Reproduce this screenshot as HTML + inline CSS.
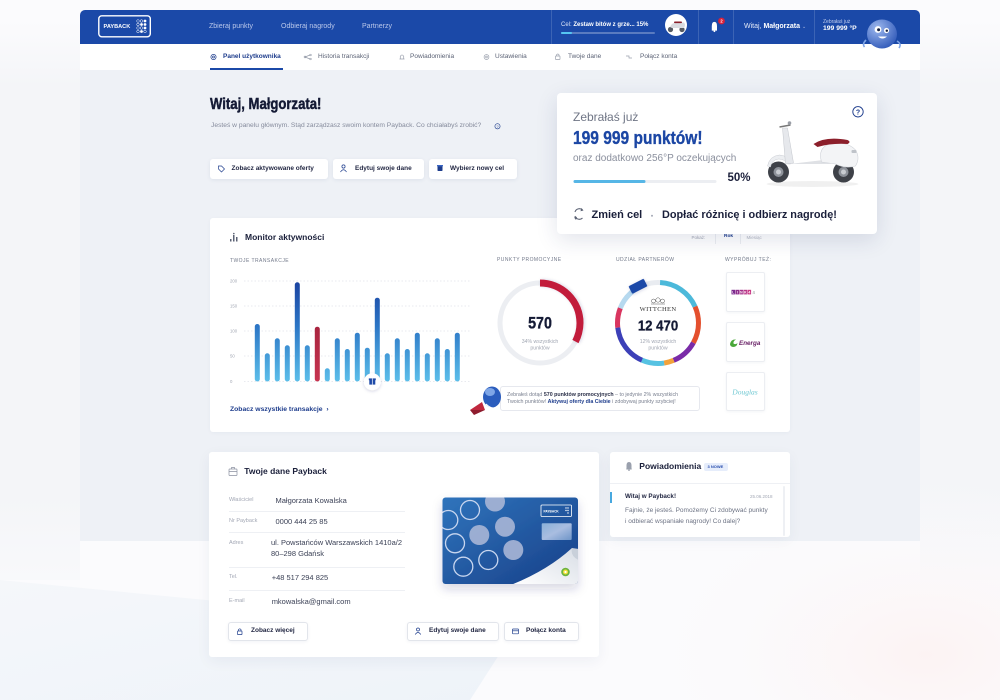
<!DOCTYPE html>
<html><head><meta charset="utf-8"><title>Payback</title>
<style>
*{margin:0;padding:0;box-sizing:border-box}
html,body{width:1000px;height:700px;overflow:hidden}
body{position:relative;background:#fbfbfd;font-family:"Liberation Sans",sans-serif;color:#1b2038}
.a{position:absolute;white-space:nowrap;line-height:1}
.p{position:absolute}
.b{font-weight:bold}
.nav{font-size:7px;color:#b9c7ea;top:22.6px}
.sn{font-size:6.5px;color:#5c6376;top:53.6px}
.btn{position:absolute;background:#fff;border-radius:3px;box-shadow:0 1px 4px rgba(30,50,100,.08)}
.btn2{position:absolute;background:#fff;border:1px solid #e2e5eb;border-radius:3px;box-shadow:0 1px 3px rgba(30,50,100,.06)}
.bt{font-size:6.5px;font-weight:bold;color:#1f2440}
.lb{font-size:5.5px;color:#a3a8b5}
.vl{font-size:7.5px;color:#3b4156}
.cap{font-size:5px;color:#737a8b;letter-spacing:.45px}
.hr{position:absolute;height:1px;background:#eef0f4}
.sep{position:absolute;top:9.5px;width:1px;height:34.5px;background:rgba(255,255,255,.15)}
</style></head><body>

<!-- background -->
<svg class="p" style="left:0;top:0" width="1000" height="700">
  <defs>
    <radialGradient id="pk" cx="0.85" cy="0.85" r="0.6"><stop offset="0" stop-color="#fcf3f3"/><stop offset="1" stop-color="#fbfbfd" stop-opacity="0"/></radialGradient>
    <linearGradient id="bl" x1="0" y1="0" x2="1" y2="1"><stop offset="0" stop-color="#f5f7fa"/><stop offset="1" stop-color="#eef3f9"/></linearGradient>
    <linearGradient id="side" x1="0" y1="0" x2="0" y2="1"><stop offset="0" stop-color="#fbfbfd"/><stop offset=".12" stop-color="#f4f5f8"/><stop offset=".85" stop-color="#f4f5f8"/><stop offset="1" stop-color="#f8f9fb"/></linearGradient>
  </defs>
  <rect x="0" y="0" width="1000" height="700" fill="#fbfbfd"/>
  <rect x="0" y="20" width="80" height="560" fill="url(#side)"/>
  <rect x="920" y="20" width="80" height="560" fill="url(#side)"/>
  <rect x="500" y="400" width="500" height="300" fill="url(#pk)"/>
  <polygon points="0,580 515,630 470,700 0,700" fill="url(#bl)"/>
</svg>

<!-- header -->
<div class="p" style="left:80px;top:9.5px;width:840px;height:34.5px;background:#1b49a8;border-radius:5px 5px 0 0"></div>
<div class="p" style="left:80px;top:44px;width:840px;height:26px;background:#fff"></div>
<div class="p" style="left:80px;top:70px;width:840px;height:471px;background:#eef1f6"></div>

<div class="a nav" style="left:209px">Zbieraj punkty</div>
<div class="a nav" style="left:281px">Odbieraj nagrody</div>
<div class="a nav" style="left:362px">Partnerzy</div>

<div class="sep" style="left:551px"></div>
<div class="sep" style="left:698px"></div>
<div class="sep" style="left:733px"></div>
<div class="sep" style="left:814px"></div>

<div class="a" style="left:561px;top:21.5px;font-size:6px;color:#dfe7f8">Cel: <b style="color:#fff">Zestaw bitów z grze... 15%</b></div>
<div class="p" style="left:561px;top:31.5px;width:94px;height:2px;background:rgba(255,255,255,.28);border-radius:1px"></div>
<div class="p" style="left:561px;top:31.5px;width:11px;height:2px;background:#55c6f2;border-radius:1px"></div>

<div class="a" style="left:744px;top:22.8px;font-size:7px;color:#e4eaf8">Witaj, <b style="color:#fff">Małgorzata</b> <span style="font-size:5px;color:#aebde6">&#8964;</span></div>
<div class="a" style="left:823px;top:19.5px;font-size:5px;color:#c1cdee">Zebrałaś już</div>
<div class="a b" style="left:823px;top:26.3px;font-size:6.8px;color:#fff">199 999 °P</div>

<!-- subnav -->
<div class="a sn b" style="left:223px;color:#1d3c8c">Panel użytkownika</div>
<div class="p" style="left:210px;top:67.5px;width:73px;height:2px;background:#1b49a8"></div>
<div class="a sn" style="left:318px">Historia transakcji</div>
<div class="a sn" style="left:410px">Powiadomienia</div>
<div class="a sn" style="left:495px">Ustawienia</div>
<div class="a sn" style="left:568px">Twoje dane</div>
<div class="a sn" style="left:640px">Połącz konta</div>

<!-- welcome -->
<div class="a b" style="left:210px;top:97px;font-size:16px;color:#141a35;transform:scaleX(.82);transform-origin:0 0;-webkit-text-stroke:.45px #141a35">Witaj, Małgorzata!</div>
<div class="a" style="left:211px;top:123.2px;font-size:6.7px;color:#858b9c">Jesteś w panelu głównym. Stąd zarządzasz swoim kontem Payback. Co chciałabyś zrobić?</div>

<div class="btn" style="left:210px;top:159px;width:117.5px;height:19.5px"></div>
<div class="a bt" style="left:231.5px;top:165.6px">Zobacz aktywowane oferty</div>
<div class="btn" style="left:333px;top:159px;width:90.5px;height:19.5px"></div>
<div class="a bt" style="left:355px;top:165.6px">Edytuj swoje dane</div>
<div class="btn" style="left:428.5px;top:159px;width:88px;height:19.5px"></div>
<div class="a bt" style="left:450px;top:165.6px">Wybierz nowy cel</div>

<!-- monitor panel -->
<div class="p" style="left:210px;top:218px;width:580px;height:213.5px;background:#fff;border-radius:3px;box-shadow:0 1px 4px rgba(30,50,100,.04)"></div>
<div class="a b" style="left:245px;top:232.8px;font-size:8.5px;color:#1a1f3a">Monitor aktywności</div>
<div class="a cap" style="left:230px;top:259px">TWOJE TRANSAKCJE</div>
<div class="a" style="left:691.5px;top:235.5px;font-size:4.5px;color:#a0a5b2">Pokaż:</div>
<div class="p" style="left:715px;top:231.5px;width:26px;height:12px;border:1px solid #eceef2;border-bottom:none;border-radius:2px 2px 0 0;background:#fff"></div>
<div class="a b" style="left:724px;top:235.3px;font-size:4.8px;color:#1d3c8c">Rok</div>
<div class="a" style="left:746.5px;top:235.5px;font-size:4.5px;color:#b2b7c2">Miesiąc</div>
<div class="a b" style="left:230px;top:407.2px;font-size:6.8px;color:#1d3c8c">Zobacz wszystkie transakcje &nbsp;›</div>
<div class="a cap" style="left:497px;top:258.4px">PUNKTY PROMOCYJNE</div>
<div class="a cap" style="left:616px;top:258.4px">UDZIAŁ PARTNERÓW</div>
<div class="a cap" style="left:725px;top:258.4px">WYPRÓBUJ TEŻ:</div>

<div class="p" style="left:725.5px;top:272.3px;width:39.5px;height:40px;background:#fff;border:1px solid #eceef2;border-radius:2px;box-shadow:0 1px 3px rgba(30,50,100,.05)"></div>
<div class="p" style="left:725.5px;top:322.3px;width:39.5px;height:39.5px;background:#fff;border:1px solid #eceef2;border-radius:2px;box-shadow:0 1px 3px rgba(30,50,100,.05)"></div>
<div class="p" style="left:725.5px;top:372.3px;width:39.5px;height:39px;background:#fff;border:1px solid #eceef2;border-radius:2px;box-shadow:0 1px 3px rgba(30,50,100,.05)"></div>

<div class="p" style="left:499.5px;top:386px;width:200px;height:25px;background:#fff;border:1px solid #e6e8ee;border-radius:3px"></div>
<div class="a" style="left:507px;top:392.5px;font-size:5.3px;color:#7a8090">Zebrałeś dotąd <b style="color:#2a2f48">570 punktów promocyjnych</b> – to jedynie 2% wszystkich</div>
<div class="a" style="left:507px;top:400px;font-size:5.3px;color:#7a8090">Twoich punktów! <b style="color:#1d3c8c">Aktywuj oferty dla Ciebie</b> i zdobywaj punkty szybciej!</div>

<!-- Twoje dane -->
<div class="p" style="left:209px;top:451.5px;width:389.5px;height:205.5px;background:#fff;border-radius:3px;box-shadow:0 4px 14px rgba(30,50,100,.06)"></div>
<div class="a b" style="left:244.3px;top:467px;font-size:8.5px;color:#1a1f3a">Twoje dane Payback</div>
<div class="a lb" style="left:229px;top:497.8px">Właściciel</div>
<div class="a vl" style="left:275.5px;top:496.8px">Małgorzata Kowalska</div>
<div class="hr" style="left:229px;top:511px;width:176px"></div>
<div class="a lb" style="left:229px;top:518.8px">Nr Payback</div>
<div class="a vl" style="left:275.5px;top:517.8px">0000 444 25 85</div>
<div class="hr" style="left:229px;top:531.7px;width:176px"></div>
<div class="a lb" style="left:229px;top:541.4px">Adres</div>
<div class="a vl" style="left:271px;top:539.4px">ul. Powstańców Warszawskich 1410a/2</div>
<div class="a vl" style="left:271px;top:550.1px">80–298 Gdańsk</div>
<div class="hr" style="left:229px;top:566.7px;width:176px"></div>
<div class="a lb" style="left:229px;top:574.8px">Tel.</div>
<div class="a vl" style="left:271.7px;top:573.8px">+48 517 294 825</div>
<div class="hr" style="left:229px;top:590px;width:176px"></div>
<div class="a lb" style="left:229px;top:598.8px">E-mail</div>
<div class="a vl" style="left:271.7px;top:597.8px">mkowalska@gmail.com</div>

<div class="btn2" style="left:228px;top:621.5px;width:80px;height:19.5px"></div>
<div class="a bt" style="left:251px;top:628.3px">Zobacz więcej</div>
<div class="btn2" style="left:407px;top:621.5px;width:92px;height:19.5px"></div>
<div class="a bt" style="left:429px;top:628.3px">Edytuj swoje dane</div>
<div class="btn2" style="left:504px;top:621.5px;width:74.5px;height:19.5px"></div>
<div class="a bt" style="left:526px;top:628.3px">Połącz konta</div>

<!-- Powiadomienia -->
<div class="p" style="left:610px;top:451.5px;width:180px;height:85px;background:#fff;border-radius:3px;box-shadow:0 4px 14px rgba(30,50,100,.05)"></div>
<div class="a b" style="left:639.3px;top:462px;font-size:8.5px;color:#1a1f3a">Powiadomienia</div>
<div class="p" style="left:704.3px;top:462.7px;width:23.5px;height:8px;background:#e6edfb;border-radius:2px"></div>
<div class="a b" style="left:707.5px;top:465px;font-size:4px;color:#2a4fae">3 NOWE</div>
<div class="hr" style="left:610px;top:482.5px;width:180px"></div>
<div class="p" style="left:610px;top:491.5px;width:1.6px;height:11px;background:#47a8df"></div>
<div class="a b" style="left:625px;top:494px;font-size:6.3px;color:#1f2440">Witaj w Payback!</div>
<div class="a" style="left:750px;top:495.3px;font-size:4.5px;color:#a3a8b5">25.06.2018</div>
<div class="a" style="left:625px;top:508.2px;font-size:6.5px;color:#6e7485">Fajnie, że jesteś. Pomożemy Ci zdobywać punkty</div>
<div class="a" style="left:625px;top:518.5px;font-size:6.5px;color:#6e7485">i odbierać wspaniałe nagrody! Co dalej?</div>
<div class="p" style="left:782.5px;top:486px;width:2px;height:50px;background:#eef0f4;border-radius:1px"></div>

<!-- graphics overlay -->
<svg class="p" style="left:0;top:0;z-index:3" width="1000" height="700">
  <defs>
    <linearGradient id="bar" x1="0" y1="281" x2="0" y2="382" gradientUnits="userSpaceOnUse">
      <stop offset="0" stop-color="#1a42a0"/><stop offset="0.45" stop-color="#2c76c6"/><stop offset="1" stop-color="#5cbfea"/>
    </linearGradient>
    <linearGradient id="red" x1="0" y1="0" x2="0" y2="1"><stop offset="0" stop-color="#a8243f"/><stop offset="1" stop-color="#c73450"/></linearGradient>
    <radialGradient id="masc" cx="0.35" cy="0.3" r="0.8"><stop offset="0" stop-color="#9db8ee"/><stop offset="1" stop-color="#2b55b6"/></radialGradient>
    <linearGradient id="card" x1="0" y1="0" x2="1" y2="1"><stop offset="0" stop-color="#2f74bc"/><stop offset="1" stop-color="#183f88"/></linearGradient>
    <linearGradient id="peel" x1="0" y1="1" x2="1" y2="0"><stop offset="0" stop-color="#ffffff"/><stop offset="1" stop-color="#d9dee6"/></linearGradient>
    <linearGradient id="holo" x1="0" y1="0" x2="1" y2="1"><stop offset="0" stop-color="#8ab0d8"/><stop offset=".5" stop-color="#a9bde0"/><stop offset="1" stop-color="#6e95c8"/></linearGradient>
    <clipPath id="cc"><rect x="442.5" y="497.5" width="135.5" height="86.5" rx="3"/></clipPath>
    <filter id="sh" x="-50%" y="-50%" width="200%" height="200%"><feDropShadow dx="0" dy="1" stdDeviation="1.5" flood-color="#1e3264" flood-opacity=".18"/></filter>
    <filter id="sh2" x="-30%" y="-30%" width="160%" height="160%"><feDropShadow dx="0" dy="5" stdDeviation="5" flood-color="#1e3264" flood-opacity=".18"/></filter>
  </defs>

  <!-- logo -->
  <rect x="98.8" y="15.8" width="51.5" height="21" rx="3" fill="none" stroke="#fff" stroke-width="1.4"/>
  <text x="103.5" y="28.2" font-family="Liberation Sans" font-weight="bold" font-size="5.6" fill="#fff">PAYBACK</text>
  <g fill="#fff">
    <circle cx="138" cy="21" r="1.3" fill="none" stroke="#fff" stroke-width=".5"/><circle cx="141.5" cy="21" r="1.3" fill="none" stroke="#fff" stroke-width=".5"/><circle cx="145" cy="21" r="1.4"/>
    <circle cx="138" cy="24.5" r="1.3" fill="none" stroke="#fff" stroke-width=".5"/><circle cx="141.5" cy="24.5" r="1.4"/><circle cx="145" cy="24.5" r="1.4"/>
    <circle cx="138" cy="28" r="1.3" fill="none" stroke="#fff" stroke-width=".5"/><circle cx="141.5" cy="28" r="1.3" fill="none" stroke="#fff" stroke-width=".5"/><circle cx="145" cy="28" r="1.4"/>
    <circle cx="138" cy="31.5" r="1.3" fill="none" stroke="#fff" stroke-width=".5"/><circle cx="141.5" cy="31.5" r="1.4"/><circle cx="145" cy="31.5" r="1.3" fill="none" stroke="#fff" stroke-width=".5"/>
  </g>

  <!-- header goal circle -->
  <circle cx="676" cy="25" r="11" fill="#fff"/>
  <circle cx="670.5" cy="29.5" r="2.6" fill="#555a63"/><circle cx="682" cy="29.5" r="2.6" fill="#555a63"/>
  <path d="M670 27 Q672 22 677 23 L684 22.5 Q686 25 684 28 L672 28 Z" fill="#d9dbe0"/>
  <rect x="674" y="21.5" width="8" height="1.6" rx=".8" fill="#8a1f2a"/>

  <!-- bell -->
  <path d="M711.8 30 L717 30 M712.4 30 L712.4 26 Q712.4 22.5 714.4 22.5 Q716.4 22.5 716.4 26 L716.4 30" stroke="#fff" stroke-width="1.2" fill="#fff"/>
  <circle cx="714.4" cy="31.2" r=".9" fill="#fff"/>
  <circle cx="721.5" cy="21" r="3.4" fill="#d8213b"/>
  <text x="721.5" y="22.6" text-anchor="middle" font-family="Liberation Sans" font-weight="bold" font-size="4.2" fill="#fff">2</text>

  <!-- mascot header -->
  <path d="M866 40 Q862 44 864.5 47" stroke="#7fa4e6" stroke-width="1.6" fill="none"/>
  <path d="M897 41 Q902 44 899 48" stroke="#7fa4e6" stroke-width="1.6" fill="none"/>
  <ellipse cx="882" cy="34" rx="15" ry="14.5" fill="url(#masc)"/>
  <circle cx="878" cy="29.5" r="3.4" fill="#fff"/><circle cx="878.6" cy="29.8" r="1.5" fill="#16213f"/>
  <circle cx="886.5" cy="30.5" r="2.6" fill="#fff"/><circle cx="886.8" cy="30.7" r="1.2" fill="#16213f"/>
  <path d="M878 36.5 Q882.5 40.5 887 36.5 Z" fill="#fff"/>

  <!-- subnav icons -->
  <g stroke="#9aa0ad" stroke-width=".7" fill="none">
    <circle cx="213.5" cy="57" r="2.6" stroke="#1d3c8c"/><circle cx="213.5" cy="57" r="1" stroke="#1d3c8c"/>
    <path d="M305 57 L310 55 M305 57 L310 59"/><circle cx="305" cy="57" r=".9"/><circle cx="310.5" cy="55" r=".8"/><circle cx="310.5" cy="59" r=".8"/>
    <path d="M399.5 59 L404.5 59 M400.3 59 L400.3 56.3 Q402 53.6 403.7 56.3 L403.7 59"/>
    <circle cx="486.5" cy="57" r="2.4"/><circle cx="486.5" cy="57" r=".9"/>
    <rect x="555.5" y="56" width="4.5" height="3.5" rx=".5"/><path d="M556.5 56 L556.5 54.8 Q557.75 53.2 559 54.8 L559 56"/>
    <path d="M626 56 L629 56 L629 58 L632 58"/>
  </g>

  <!-- welcome icons -->
  <circle cx="497.5" cy="126.3" r="2.6" fill="none" stroke="#1d3c8c" stroke-width=".6"/>
  <text x="497.5" y="128" text-anchor="middle" font-family="Liberation Sans" font-size="4" fill="#1d3c8c">?</text>
  <g stroke="#1d3c8c" stroke-width=".7" fill="none">
    <path d="M218.5 166 L221.5 166 L224.5 169 L221.5 172 L218.5 169 Z"/>
    <circle cx="343.5" cy="166.5" r="1.6"/><path d="M340.5 172 Q343.5 167.5 346.5 172"/>
  </g>
  <rect x="437.5" y="166" width="5" height="5" rx=".8" fill="#1d3c8c"/><rect x="437" y="165" width="6" height="1.4" fill="#3b66c4"/>

  <!-- monitor icon -->
  <g fill="#5b6274"><rect x="230" y="239" width="1.5" height="2.5"/><rect x="233" y="235" width="1.5" height="6.5"/><rect x="236" y="237" width="1.5" height="4.5"/><circle cx="233.8" cy="233.6" r=".8"/></g>

  <!-- grid -->
  <g stroke="#e1e4ea" stroke-width=".7" stroke-dasharray="1.5 2">
    <line x1="244" y1="281" x2="470" y2="281"/><line x1="244" y1="306" x2="470" y2="306"/><line x1="244" y1="331" x2="470" y2="331"/><line x1="244" y1="356" x2="470" y2="356"/><line x1="244" y1="381.5" x2="470" y2="381.5"/>
  </g>
  <g font-family="Liberation Sans" font-size="4.3" fill="#a2a7b3">
    <text x="230" y="282.6">200</text><text x="230" y="307.6">150</text><text x="230" y="332.6">100</text><text x="230" y="357.6">50</text><text x="230" y="383.1">0</text>
  </g>
  <!-- bars -->
  <g fill="url(#bar)">
    <rect x="254.8" y="324" width="5" height="57.5" rx="2.5"/>
    <rect x="264.8" y="353.3" width="5" height="28.2" rx="2.5"/>
    <rect x="274.8" y="338.3" width="5" height="43.2" rx="2.5"/>
    <rect x="284.8" y="345.3" width="5" height="36.2" rx="2.5"/>
    <rect x="294.8" y="282.3" width="5" height="99.2" rx="2.5"/>
    <rect x="304.8" y="345.3" width="5" height="36.2" rx="2.5"/>
    <rect x="324.8" y="368.3" width="5" height="13.2" rx="2.5"/>
    <rect x="334.8" y="338.3" width="5" height="43.2" rx="2.5"/>
    <rect x="344.8" y="349" width="5" height="32.5" rx="2.5"/>
    <rect x="354.8" y="332.7" width="5" height="48.8" rx="2.5"/>
    <rect x="364.8" y="347.7" width="5" height="33.8" rx="2.5"/>
    <rect x="374.8" y="297.7" width="5" height="83.8" rx="2.5"/>
    <rect x="384.8" y="353.3" width="5" height="28.2" rx="2.5"/>
    <rect x="394.8" y="338.3" width="5" height="43.2" rx="2.5"/>
    <rect x="404.8" y="349" width="5" height="32.5" rx="2.5"/>
    <rect x="414.8" y="332.7" width="5" height="48.8" rx="2.5"/>
    <rect x="424.8" y="353.3" width="5" height="28.2" rx="2.5"/>
    <rect x="434.8" y="338.3" width="5" height="43.2" rx="2.5"/>
    <rect x="444.8" y="349" width="5" height="32.5" rx="2.5"/>
    <rect x="454.8" y="332.7" width="5" height="48.8" rx="2.5"/>
  </g>
  <rect x="314.8" y="326.7" width="5" height="54.8" rx="2.5" fill="url(#red)"/>
  <!-- gift -->
  <circle cx="372.3" cy="381.7" r="8.5" fill="#fff" filter="url(#sh)"/>
  <rect x="369.3" y="380" width="6" height="4.6" fill="#1f4aa8"/><rect x="368.8" y="378.4" width="7" height="1.8" fill="#1f4aa8"/>
  <line x1="372.3" y1="378.4" x2="372.3" y2="384.6" stroke="#fff" stroke-width=".7"/>

  <!-- donut 1 -->
  <circle cx="540" cy="323" r="40" fill="none" stroke="#eceef2" stroke-width="5"/>
  <circle cx="540" cy="323" r="40" fill="none" stroke="#c21f3b" stroke-width="7" stroke-dasharray="82 300" transform="rotate(-90 540 323)" filter="url(#sh)"/>
  <text x="540" y="328.5" text-anchor="middle" font-family="Liberation Sans" font-weight="bold" font-size="17" fill="#141a35" stroke="#141a35" stroke-width=".35" transform="translate(540 0) scale(.84 1) translate(-540 0)">570</text>
  <text x="540" y="343" text-anchor="middle" font-family="Liberation Sans" font-size="5.2" fill="#a2a7b3">34% wszystkich</text>
  <text x="540" y="349.5" text-anchor="middle" font-family="Liberation Sans" font-size="5.2" fill="#a2a7b3">punktów</text>

  <!-- donut 2 -->
  <g fill="none" stroke-width="5" transform="rotate(-90 658 323)">
    <circle cx="658" cy="323" r="40.5" stroke="#e9ecf1"/>
    <circle cx="658" cy="323" r="40.5" stroke="#4cb9da" stroke-dasharray="44.53 300" stroke-dashoffset="-2.12"/>
    <circle cx="658" cy="323" r="40.5" stroke="#e4502e" stroke-dasharray="37.46 300" stroke-dashoffset="-46.65"/>
    <circle cx="658" cy="323" r="40.5" stroke="#7a2ba8" stroke-dasharray="26.86 300" stroke-dashoffset="-84.12"/>
    <circle cx="658" cy="323" r="40.5" stroke="#f2a23a" stroke-dasharray="9.9 300" stroke-dashoffset="-110.98"/>
    <circle cx="658" cy="323" r="40.5" stroke="#56c2e2" stroke-dasharray="22.62 300" stroke-dashoffset="-120.87"/>
    <circle cx="658" cy="323" r="40.5" stroke="#3c40b8" stroke-dasharray="42.41 300" stroke-dashoffset="-143.49"/>
    <circle cx="658" cy="323" r="40.5" stroke="#d9355f" stroke-dasharray="19.79 300" stroke-dashoffset="-185.9"/>
    <circle cx="658" cy="323" r="40.5" stroke="#b6d9ef" stroke-dasharray="34.64 300" stroke-dashoffset="-205.69"/>
  </g>
  <rect x="629.5" y="282" width="17" height="8.5" rx="1" fill="#1e4aa8" transform="rotate(-27 638 286.3)" filter="url(#sh)"/>
  <g fill="none" stroke="#555" stroke-width=".5">
    <circle cx="653.5" cy="301" r="2"/><circle cx="658" cy="300" r="2.2"/><circle cx="662.5" cy="301" r="2"/><path d="M651 304 L665 304"/>
  </g>
  <text x="658" y="311" text-anchor="middle" font-family="Liberation Serif" font-size="6.6" fill="#333" letter-spacing=".3">WITTCHEN</text>
  <text x="658" y="330.5" text-anchor="middle" font-family="Liberation Sans" font-weight="bold" font-size="15" fill="#141a35" stroke="#141a35" stroke-width=".3" transform="translate(658 0) scale(.88 1) translate(-658 0)">12 470</text>
  <text x="658" y="343" text-anchor="middle" font-family="Liberation Sans" font-size="5.2" fill="#a2a7b3">12% wszystkich</text>
  <text x="658" y="349.5" text-anchor="middle" font-family="Liberation Sans" font-size="5.2" fill="#a2a7b3">punktów</text>

  <!-- partner logos -->
  <g>
    <rect x="731.5" y="289.8" width="3.6" height="4.6" fill="#7b2a8e"/><rect x="735.5" y="289.8" width="3.6" height="4.6" fill="#8e2d8c"/><rect x="739.5" y="289.8" width="3.6" height="4.6" fill="#a3318a"/><rect x="743.5" y="289.8" width="3.6" height="4.6" fill="#b83588"/><rect x="747.5" y="289.8" width="3.6" height="4.6" fill="#c93a86"/>
    <g font-family="Liberation Sans" font-weight="bold" font-size="3.4" fill="#fff" text-anchor="middle"><text x="733.3" y="293.4">L</text><text x="737.3" y="293.4">I</text><text x="741.3" y="293.4">N</text><text x="745.3" y="293.4">K</text><text x="749.3" y="293.4">4</text></g>
    <text x="752.5" y="293.8" font-family="Liberation Sans" font-size="4.2" fill="#888">4</text>
    <path d="M730 344 Q731 339 736 339.5 Q733 341 733.5 343.5 Q735.5 345 737.5 343 Q737 347 733 347 Q730 346.5 730 344 Z" fill="#4aa83a"/>
    <text x="739" y="345.2" font-family="Liberation Sans" font-style="italic" font-weight="bold" font-size="6.3" fill="#6b2468">Energa</text>
    <text x="745" y="394.5" text-anchor="middle" font-family="Liberation Serif" font-style="italic" font-size="7.5" fill="#72c9d3">Douglas</text>
  </g>

  <!-- mascot megaphone -->
  <ellipse cx="492" cy="397" rx="9" ry="10.5" fill="#2b5dbd"/>
  <ellipse cx="490" cy="392" rx="5" ry="4" fill="#7fa6e6"/>
  <path d="M486 404 Q494 412 500 404" stroke="#fff" stroke-width="1" fill="none"/>
  <path d="M470 410 L482 402 L485 410 Z" fill="#c0283e"/>
  <path d="M470 410 L474 415 L485 410 Z" fill="#8e1c2e"/>

  <!-- twoje dane icons -->
  <g stroke="#8a90a0" stroke-width=".7" fill="none">
    <rect x="229" y="469" width="8" height="6.5" rx=".6"/><path d="M231.5 469 L231.5 467.5 L234.5 467.5 L234.5 469 M229 471.5 L237 471.5"/>
  </g>
  <g stroke="#1d3c8c" stroke-width=".7" fill="none">
    <rect x="237.5" y="631" width="4.5" height="3.6" rx=".5"/><path d="M238.5 631 L238.5 629.6 Q239.75 628 241 629.6 L241 631"/>
    <circle cx="418" cy="629.5" r="1.5"/><path d="M415.2 634.5 Q418 630.5 420.8 634.5"/>
    <rect x="512.5" y="629" width="6" height="4.8" rx=".5"/><path d="M512.5 630.8 L518.5 630.8"/>
  </g>
  <!-- bell notif -->
  <path d="M626.3 469 L631.7 469 M627 469 L627 465.5 Q627 462.5 629 462.5 Q631 462.5 631 465.5 L631 469" stroke="#9aa0ad" stroke-width="1" fill="#9aa0ad"/>
  <circle cx="629" cy="470.2" r=".8" fill="#9aa0ad"/>

  <!-- payback card -->
  <g filter="url(#sh2)"><rect x="442.5" y="497.5" width="135.5" height="86.5" rx="3" fill="url(#card)"/></g>
  <g clip-path="url(#cc)">
    <g fill="#a9b6d6" fill-opacity=".9">
      <circle cx="495" cy="501.5" r="10"/><circle cx="479.3" cy="535" r="10"/><circle cx="505" cy="526.7" r="10"/><circle cx="513.3" cy="550" r="10"/>
    </g>
    <g fill="none" stroke="#c8d6ef" stroke-width="1.3">
      <circle cx="470" cy="510" r="9.5"/><circle cx="448.3" cy="520" r="9.5"/><circle cx="455" cy="543.3" r="9.5"/><circle cx="488.3" cy="560" r="9.5"/><circle cx="463.3" cy="566.7" r="9.5"/>
    </g>
    <path d="M512 584.5 Q548 570 572 548 Q574 551 578.5 549 L578.5 584.5 Z" fill="url(#peel)"/>
    <path d="M572 548 Q570 556 578.5 560 L578.5 549 Z" fill="#c9d0da"/>
  </g>
  <rect x="541" y="505" width="30.5" height="11.5" rx="1" fill="none" stroke="#fff" stroke-width=".8"/>
  <text x="543.5" y="512.3" font-family="Liberation Sans" font-weight="bold" font-size="3.2" fill="#fff">PAYBACK</text>
  <g fill="#fff"><circle cx="566" cy="508" r=".7"/><circle cx="568" cy="508" r=".7"/><circle cx="568" cy="510.5" r=".7"/><circle cx="566" cy="510.5" r=".7"/><circle cx="568" cy="513" r=".7"/></g>
  <rect x="541.7" y="523.3" width="30" height="16.7" rx="1" fill="url(#holo)"/>
  <circle cx="565.5" cy="572" r="4.3" fill="#6cb33f"/><circle cx="565.5" cy="572" r="2.5" fill="#f3e13a"/><circle cx="565.5" cy="572" r="1.1" fill="#fff"/>
</svg>

<!-- right floating card -->
<div class="p" style="left:556.5px;top:92.5px;width:320.5px;height:141px;background:#fff;border-radius:4px;box-shadow:0 6px 22px rgba(30,50,100,.13);z-index:6">
  <svg class="p" style="left:0;top:0" width="321" height="141">
    <circle cx="301" cy="18.8" r="5.2" fill="none" stroke="#1d3c8c" stroke-width=".9"/>
    <text x="301" y="21.3" text-anchor="middle" font-family="Liberation Sans" font-weight="bold" font-size="7" fill="#1d3c8c">?</text>
    <rect x="16.5" y="87" width="143" height="3" rx="1.5" fill="#eceef2"/>
    <rect x="16.5" y="87" width="72" height="3" rx="1.5" fill="#56b6e6"/>
    <!-- refresh icon -->
    <path d="M18 119 A4.5 4.5 0 0 1 25.5 117" stroke="#5b6274" stroke-width="1.1" fill="none"/>
    <path d="M25.5 125 A4.5 4.5 0 0 1 18 123" stroke="#5b6274" stroke-width="1.1" fill="none"/>
    <path d="M24.5 115 L26.5 117.5 L23.5 118.2 Z" fill="#5b6274"/><path d="M19 127 L17 124.5 L20 123.8 Z" fill="#5b6274"/>
    <circle cx="95" cy="122.8" r="1" fill="#a3a8b5"/>
    <!-- scooter -->
    <g transform="translate(208.5 33)">
      <ellipse cx="47" cy="58" rx="46" ry="3" fill="#000" fill-opacity=".06"/>
      <circle cx="13" cy="46" r="10.5" fill="#3e4148"/><circle cx="13" cy="46" r="5" fill="#8e929a"/><circle cx="13" cy="46" r="2.5" fill="#c9ccd1"/>
      <circle cx="78" cy="46" r="10.5" fill="#3e4148"/><circle cx="78" cy="46" r="5" fill="#8e929a"/><circle cx="78" cy="46" r="2.5" fill="#c9ccd1"/>
      <path d="M2 40 Q4 30 14 29 Q24 30 25 38 L22 38 Q19 33 13 33 Q6 34 5 41 Z" fill="#eceef1" stroke="#c9ccd2" stroke-width=".5"/>
      <path d="M17 2 L22 2 L28 37 L20 38 Z" fill="#e6e8ec" stroke="#c4c7cd" stroke-width=".5"/>
      <path d="M14 1 L25 -1" stroke="#777" stroke-width="1.4"/>
      <circle cx="24" cy="-3" r="1.8" fill="#9a9ea6"/>
      <path d="M24 38 L62 38 Q68 38 70 34 L58 34 Z" fill="#dfe1e5"/>
      <path d="M56 36 Q52 22 64 18 Q82 15 90 24 Q95 32 90 40 Q80 43 70 38 Z" fill="#f3f4f6" stroke="#cfd2d8" stroke-width=".6"/>
      <path d="M48 18 Q60 10 82 14 Q86 16 82 18 Q66 17 52 21 Z" fill="#8c1f2b"/>
      <rect x="86" y="24" width="5" height="3" rx="1" fill="#bfc3c9"/>
    </g>
  </svg>
  <div class="a" style="left:16.5px;top:18.3px;font-size:12px;color:#6f7585">Zebrałaś już</div>
  <div class="a b" style="left:16.5px;top:36.5px;font-size:18.5px;color:#1b46a4;transform:scaleX(.84);transform-origin:0 0;-webkit-text-stroke:.35px #1b46a4">199 999 punktów!</div>
  <div class="a" style="left:16.5px;top:61.8px;font-size:10px;color:#8a8f9d">oraz dodatkowo 256°P oczekujących</div>
  <div class="a b" style="left:171px;top:80px;font-size:11.5px;color:#1a1f3a">50%</div>
  <div class="a b" style="left:35px;top:117.1px;font-size:11px;color:#1a1f3a">Zmień cel</div>
  <div class="a b" style="left:105.5px;top:117.1px;font-size:10.9px;color:#1a1f3a">Dopłać różnicę i odbierz nagrodę!</div>
</div>

</body></html>
